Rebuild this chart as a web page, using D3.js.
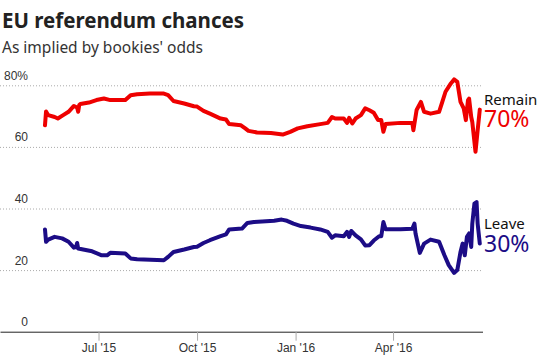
<!DOCTYPE html>
<html>
<head>
<meta charset="utf-8">
<script src="https://cdn.jsdelivr.net/npm/d3@7"></script>
<style>
  html, body { margin: 0; padding: 0; background: #fff; }
  svg { display: block; font-family: "Noto Sans", "Open Sans", sans-serif; }
</style>
</head>
<body>
<svg id="chart" width="551" height="357"></svg>
<script>
// ---- Data ----
const remainDates = ["2015-05-12","2015-05-13","2015-05-15","2015-05-21","2015-05-24","2015-05-29","2015-06-03","2015-06-08","2015-06-11","2015-06-12","2015-06-13","2015-06-14","2015-06-22","2015-06-29","2015-07-06","2015-07-12","2015-07-26","2015-07-31","2015-08-06","2015-08-18","2015-08-31","2015-09-04","2015-09-09","2015-09-19","2015-09-28","2015-10-01","2015-10-07","2015-10-13","2015-10-23","2015-10-28","2015-10-31","2015-11-11","2015-11-15","2015-11-18","2015-11-26","2015-12-09","2015-12-20","2015-12-27","2016-01-03","2016-01-12","2016-01-24","2016-01-31","2016-02-04","2016-02-07","2016-02-15","2016-02-18","2016-02-20","2016-02-23","2016-02-26","2016-03-02","2016-03-06","2016-03-10","2016-03-14","2016-03-18","2016-03-21","2016-03-23","2016-03-25","2016-04-08","2016-04-19","2016-04-20","2016-04-23","2016-04-27","2016-04-30","2016-05-06","2016-05-14","2016-05-17","2016-05-20","2016-05-25","2016-05-28","2016-05-31","2016-06-03","2016-06-06","2016-06-08","2016-06-10","2016-06-11","2016-06-13","2016-06-14","2016-06-17","2016-06-19","2016-06-21"];
const remainValues = [67.0,71.5,70.3,69.7,69.2,70.3,71.4,73.3,72.8,71.4,73.6,73.9,74.4,75.2,75.7,75.2,75.2,76.8,77.1,77.3,77.3,76.8,74.9,74.1,73.2,73.1,71.7,70.8,69.2,68.9,67.4,67.0,66.0,65.2,64.7,64.5,64.0,64.9,66.0,66.7,67.4,67.8,69.7,69.2,69.2,67.8,69.4,67.6,69.2,70.3,72.5,71.9,71.1,68.7,68.7,64.9,67.4,67.8,67.8,65.4,72.0,74.6,71.4,70.8,71.4,74.6,77.9,80.6,81.9,81.1,74.6,72.5,68.7,75.2,75.7,69.7,68.1,58.4,65.4,72.1];

const leaveDates = ["2015-05-12","2015-05-13","2015-05-15","2015-05-21","2015-05-28","2015-06-03","2015-06-08","2015-06-10","2015-06-11","2015-06-12","2015-06-19","2015-06-25","2015-07-04","2015-07-09","2015-07-12","2015-07-26","2015-07-31","2015-08-06","2015-08-31","2015-09-04","2015-09-09","2015-09-19","2015-09-28","2015-10-01","2015-10-07","2015-10-13","2015-10-23","2015-10-28","2015-10-31","2015-11-12","2015-11-17","2015-11-23","2015-12-12","2015-12-19","2015-12-24","2015-12-30","2016-01-06","2016-01-15","2016-01-24","2016-01-31","2016-02-04","2016-02-07","2016-02-15","2016-02-18","2016-02-20","2016-02-22","2016-02-26","2016-03-02","2016-03-06","2016-03-10","2016-03-14","2016-03-19","2016-03-21","2016-03-23","2016-03-25","2016-04-08","2016-04-19","2016-04-21","2016-04-22","2016-04-26","2016-04-30","2016-05-06","2016-05-14","2016-05-19","2016-05-23","2016-05-28","2016-05-31","2016-06-03","2016-06-05","2016-06-07","2016-06-09","2016-06-11","2016-06-13","2016-06-14","2016-06-16","2016-06-18","2016-06-19","2016-06-21"];
const leaveValues = [33.2,29.2,29.9,30.8,30.3,29.2,27.3,27.5,28.8,27.0,26.5,26.1,24.8,24.8,25.6,25.4,23.8,23.5,23.2,24.3,25.9,26.7,27.5,27.6,28.8,29.7,31.0,31.6,33.2,33.5,35.3,35.6,36.0,36.4,36.0,35.1,34.3,33.8,33.2,32.4,30.5,31.3,31.0,32.4,30.8,32.7,31.3,30.0,28.0,28.1,29.6,31.0,31.0,35.6,33.3,33.3,33.4,35.1,31.9,25.6,28.6,29.9,29.2,24.8,21.6,19.1,20.0,25.9,28.6,24.8,30.8,31.9,27.5,35.1,41.6,42.1,35.1,28.6];

const yTicks = [0, 20, 40, 60, 80];
const xTickDates = ["2015-07-01","2015-10-01","2016-01-01","2016-04-01"];
const xDomain = ["2015-03-31","2016-06-24"];

const titleText = "EU referendum chances";
const subtitleText = "As implied by bookies' odds";
const remainLabel = "Remain", remainPct = "70%";
const leaveLabel = "Leave", leavePct = "30%";

// ---- Drawing ----
const parse = d3.utcParse("%Y-%m-%d");
const svg = d3.select("#chart");
const RED = "#ee0000", BLUE = "#1c0c86";
const plotRight = 483;

const x = d3.scaleUtc().domain(xDomain.map(parse)).range([0, plotRight]);
const y = d3.scaleLinear().domain([0, 80]).range([331.7, 85.3]);

svg.append("text").attr("x", 2).attr("y", 28)
  .attr("font-size", 20.5).attr("font-weight", 700).attr("fill", "#222")
  .text(titleText);
svg.append("text").attr("x", 2).attr("y", 53)
  .attr("font-size", 15.5).attr("fill", "#333")
  .text(subtitleText);

// y axis with gridlines
const yAxis = d3.axisRight(y).tickValues(yTicks).tickSize(plotRight)
  .tickFormat(d => d === 80 ? d + "%" : d);
const gy = svg.append("g").attr("class", "y-axis").call(yAxis);
gy.select(".domain").remove();
gy.selectAll(".tick line")
  .attr("stroke", "#aaa").attr("stroke-dasharray", "1,2").attr("x1", 0);
gy.selectAll(".tick text")
  .attr("x", 28).attr("dy", -6).attr("text-anchor", "end")
  .attr("font-size", 12).attr("fill", "#333").attr("font-family", null);
gy.selectAll(".tick").filter(d => d === 0).select("line").remove();

// x axis
const xAxis = d3.axisBottom(x).tickValues(xTickDates.map(parse)).tickSize(9)
  .tickFormat(d3.utcFormat("%b '%y"));
const gx = svg.append("g").attr("class", "x-axis")
  .attr("transform", `translate(0,${y(0)})`).call(xAxis);
gx.select(".domain").attr("stroke", "#222").attr("d", `M0.5,0.5H${plotRight}`);
gx.selectAll(".tick line").attr("stroke", "#aaa");
gx.selectAll(".tick text").attr("font-size", 12).attr("fill", "#333").attr("font-family", null);

// lines
const line = d3.line().x(d => x(d[0])).y(d => y(d[1]));
const remain = remainDates.map((d, i) => [parse(d), remainValues[i]]);
const leave = leaveDates.map((d, i) => [parse(d), leaveValues[i]]);

svg.append("path").datum(remain).attr("d", line)
  .attr("fill", "none").attr("stroke", RED).attr("stroke-width", 4)
  .attr("stroke-linejoin", "round").attr("stroke-linecap", "round");
svg.append("path").datum(leave).attr("d", line)
  .attr("fill", "none").attr("stroke", BLUE).attr("stroke-width", 4)
  .attr("stroke-linejoin", "round").attr("stroke-linecap", "round");

// end labels
const lx = plotRight + 1;
svg.append("text").attr("x", lx).attr("y", 105).attr("font-size", 15).attr("fill", "#111").text(remainLabel);
svg.append("text").attr("x", lx).attr("y", 127).attr("font-size", 23).attr("fill", RED).text(remainPct);
svg.append("text").attr("x", lx).attr("y", 229).attr("font-size", 15).attr("fill", "#111").text(leaveLabel);
svg.append("text").attr("x", lx).attr("y", 252).attr("font-size", 23).attr("fill", BLUE).text(leavePct);
</script>
</body>
</html>
